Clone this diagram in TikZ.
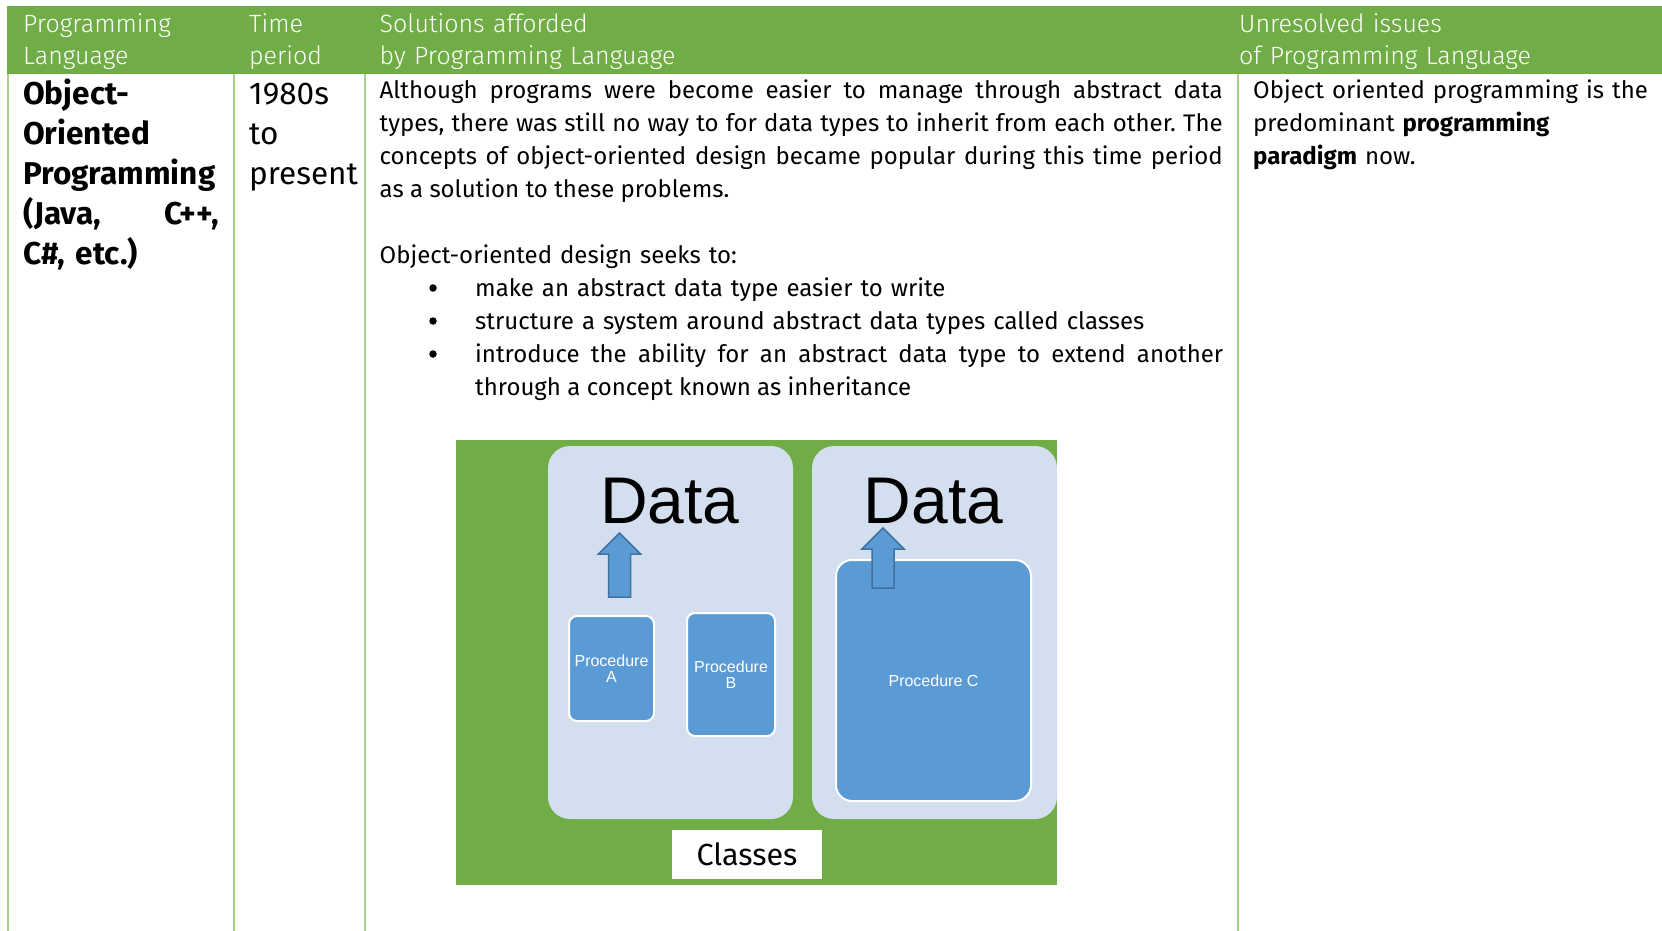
\documentclass[tikz,border=0pt]{standalone}
\usepackage{fontspec}
\setmainfont{Fira Sans}
\newfontfamily\headfont{Fira Sans Light}
\newfontfamily\arialfont{Liberation Sans}
\usetikzlibrary{positioning}
\frenchspacing
\tolerance=10000
\definecolor{hdgreen}{HTML}{70AD47}
\definecolor{rulegreen}{HTML}{A9D18E}
\definecolor{classfill}{HTML}{D3DEEF}
\definecolor{procblue}{HTML}{5B9BD5}
\definecolor{arrowedge}{HTML}{41719C}
\newcommand\upblock[3]{
  \filldraw[fill=procblue,draw=arrowedge,line width=1.5pt] (#1-11,#2) -- (#1-11,#3+21) -- (#1-21,#3+21) -- (#1,#3) -- (#1+21,#3+21) -- (#1+11,#3+21) -- (#1+11,#2) -- cycle;
}
\tikzset{
  headtext/.style={anchor=base west,inner sep=0,text=white,text width=#1,align=left,font=\headfont\fontsize{25}{32}\selectfont},
  bodytext/.style={anchor=base west,inner sep=0,text width=#1,align=left,font=\fontsize{24}{33}\selectfont},
  bigtext/.style={anchor=base west,inner sep=0,text width=#1,align=left,font=\fontsize{31.5}{40}\selectfont},
  bulletdot/.style={circle,fill=black,inner sep=0,minimum size=7.5pt},
  classbox/.style={fill=classfill,rounded corners=22pt,minimum width=245pt,minimum height=373pt,inner sep=0},
  proc/.style={fill=procblue,draw=white,line width=2pt,rounded corners=8pt,text=white,align=center,inner sep=0,font=\arialfont\fontsize{16}{16}\selectfont},
  datatext/.style={anchor=base,inner sep=0,font=\arialfont\fontsize{66}{66}\selectfont}
}
\begin{document}
\begin{tikzpicture}[x=1pt,y=-1pt]
  \useasboundingbox (0,0) rectangle (1662,931);
  \fill[hdgreen] (7,6) rectangle (1662,74);
  \foreach \x in {8,234,365,1238}
    \draw[rulegreen,line width=2pt] (\x,74) -- (\x,931);
  \node[headtext=200pt] (hlang) at (23,33) {Programming\\Language};
  \node[headtext=120pt] (htime) at (249,33) {Time\\period};
  \node[headtext=500pt] (hsol) at (379.5,33) {Solutions afforded\\by Programming Language};
  \node[headtext=400pt] (hissue) at (1239,33) {Unresolved issues\\of Programming Language};
  \node[bigtext=196pt,font=\bfseries\fontsize{31.5}{40}\selectfont] (lang) at (23,105) {Object-\\Oriented\\Programming\\(Java,\hfill C++,\\C\#, etc.)};
  \node[bigtext=120pt] (time) at (249,105) {1980s\\to\\present};
  \node[bodytext=843pt,align=justify] (para) at (379.5,99) {Although programs were become easier to manage through abstract data\linebreak types, there was still no way to for data types to inherit from each other. The\linebreak concepts of object-oriented design became popular during this time period\linebreak as a solution to these problems.};
  \node[bodytext=843pt] (seeks) at (379.5,263) {Object-oriented design seeks to:};
  \foreach \y/\n in {288/A,321/B,354/C}
    \node[bulletdot] (dot\n) at (433,\y) {};
  \node[bodytext=748pt] (itemA) at (475,296) {make an abstract data type easier to write};
  \node[bodytext=748pt] (itemB) at (475,329) {structure a system around abstract data types called classes};
  \node[bodytext=748pt,align=justify] (itemC) at (475,362) {introduce the ability for an abstract data type to extend another\linebreak through a concept known as inheritance};
  \node[bodytext=400pt] (issue) at (1253,99) {Object oriented programming is the\\predominant \textbf{programming}\\\textbf{paradigm} now.};
  \node[fill=hdgreen,minimum width=601pt,minimum height=445pt,inner sep=0] (panel) at (756.5,662.5) {};
  \node[classbox] (classA) at (670.5,632.5) {};
  \node[classbox] (classB) at (934.5,632.5) {};
  \node[datatext] (dataA) at (670,523) {Data};
  \node[datatext] (dataB) at (933.5,523) {Data};
  \node[proc,minimum width=85pt,minimum height=105pt] (procA) at (611.5,668.5) {Procedure\\A};
  \node[proc,minimum width=88pt,minimum height=123pt] (procB) at (731,674.5) {Procedure\\B};
  \node[proc,minimum width=195pt,minimum height=241pt,rounded corners=16pt] (procC) at (933.5,680.5) {Procedure C};
  \upblock{619.5}{597}{533}
  \upblock{883}{588}{528}
  \node[fill=white,minimum width=150pt,minimum height=49pt,inner sep=0,font=\fontsize{30.5}{30.5}\selectfont] (classes) at (747,854.5) {Classes};
\end{tikzpicture}
\end{document}
